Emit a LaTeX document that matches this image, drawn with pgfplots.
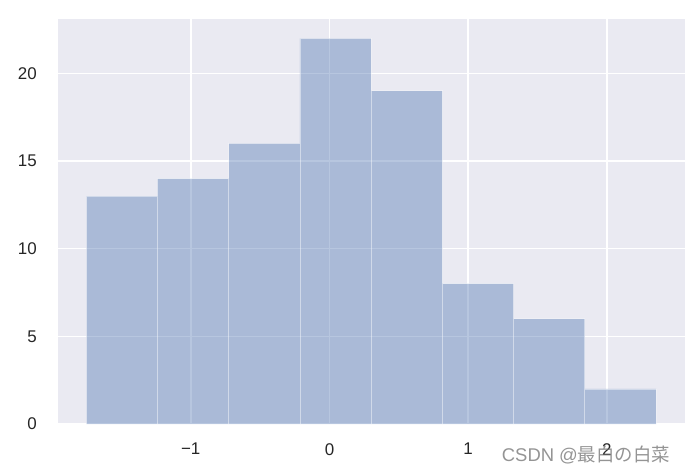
\documentclass[border=0pt]{standalone}
\usepackage{fontspec}
\setmainfont{Liberation Sans}
\newfontfamily\cjk{Noto Sans CJK SC}
\usepackage{pgfplots}
\pgfplotsset{compat=1.18}
\definecolor{bgc}{HTML}{EAEAF2}
\definecolor{barc}{HTML}{4C72B0}
\definecolor{tickc}{HTML}{262626}
\definecolor{wmc}{HTML}{707070}

\begin{document}
\begin{tikzpicture}
\useasboundingbox (-58bp,-50bp) rectangle (629bp,424bp);
\begin{axis}[
    at={(0,0)}, anchor=south west,
    scale only axis,
    width=627bp, height=405bp,
    xmin=-1.957, xmax=2.563,
    ymin=0, ymax=23.1,
    axis background/.style={fill=bgc},
    axis line style={draw=none},
    major tick length=0pt,
    grid=major,
    major grid style={white, line width=1.5bp},
    xtick={-1,0,1,2}, xticklabels={−1,0,1,2},
    ytick={0,5,10,15,20}, yticklabels={0,5,10,15,20},
    tick label style={font=\fontsize{17}{20}\selectfont, text=tickc, inner sep=0pt},
    xticklabel style={anchor=north},
    yticklabel style={anchor=east},
    xticklabel shift=19bp,
    yticklabel shift=21bp,
]
\addplot[ybar interval, fill=barc, fill opacity=0.4, draw=white, draw opacity=0.45, line width=0.8bp]
    coordinates {
        (-1.753,13) (-1.240,14) (-0.726,16) (-0.213,22)
        (0.301,19) (0.814,8) (1.328,6) (1.841,2) (2.354,2)
    };
\end{axis}
% watermark over the picture
\node[text=wmc, text opacity=0.75, font=\fontsize{18.5}{22}\selectfont, inner sep=0pt] at (528bp,-31bp) {CSDN @{\cjk 最白の白菜}};
\end{tikzpicture}
\end{document}
